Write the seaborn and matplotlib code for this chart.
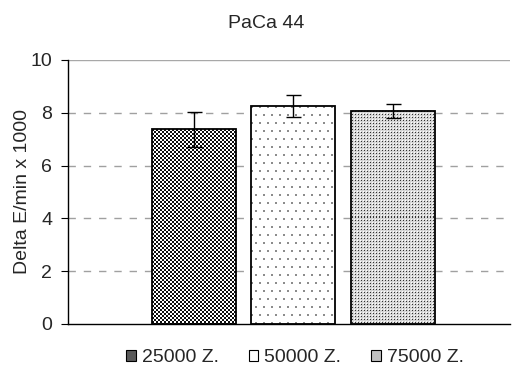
import matplotlib
matplotlib.use("Agg")
import matplotlib.pyplot as plt
import seaborn as sns
import pandas as pd
import numpy as np
from matplotlib.patches import Patch

# Cell-count groups and measured activity (mean ± SD)
groups = ["25000 Z.", "50000 Z.", "75000 Z."]
values = [7.37, 8.25, 8.07]
errors = [0.67, 0.42, 0.25]
yticks = [0, 2, 4, 6, 8, 10]
title = "PaCa 44"
ylabel = "Delta E/min x 1000"

sns.set_theme(style="white")
plt.rcParams["font.family"] = ["Liberation Sans", "DejaVu Sans"]

df = pd.DataFrame({"group": groups, "value": values})

W, H = 514, 373
fig = plt.figure(figsize=(W / 100, H / 100), dpi=100)
ax = fig.add_axes([68.3 / W, 1 - 324 / H, (510 - 68.3) / W, 264 / H])

sns.barplot(data=df, x="group", y="value", hue="group", order=groups,
            hue_order=groups, dodge=False, width=0.844, legend=False, ax=ax,
            errorbar=None, zorder=3)

XLIM = (-1.26, 3.18)
ax.set_ylim(0, 10)
ax.set_xlim(*XLIM)


def texture(kind, h, w):
    """Pixel fill pattern for a bar of h x w pixels."""
    yy, xx = np.mgrid[0:h, 0:w]
    img = np.ones((h, w, 3))
    if kind == "checker":
        mask = ((xx // 2) + (yy // 2)) % 2 == 0
        img[mask] = 0.05
    elif kind == "sparse":
        row = yy // 8
        shift = (row % 2) * 4
        mask = ((yy % 8) < 2) & (((xx + shift) % 8) < 2)
        img[mask] = 0.55
    elif kind == "dense":
        img[:] = 0.84
        img[(xx % 3 == 1) & (yy % 3 == 1)] = 0.2
        img[(xx % 3 == 0) & (yy % 3 == 0)] = 1.0
    return img


kinds = ["checker", "sparse", "dense"]
for patch, kind in zip(ax.patches, kinds):
    x0 = patch.get_x()
    x1 = x0 + patch.get_width()
    y1 = patch.get_height()
    (px0, py0), (px1, py1) = ax.transData.transform([(x0, 0), (x1, y1)])
    h = max(int(round(py1 - py0)), 2)
    w = max(int(round(px1 - px0)), 2)
    ax.imshow(texture(kind, h, w), extent=(x0, x1, 0, y1), origin="upper",
              interpolation="nearest", aspect="auto", zorder=2.5)
    patch.set_facecolor("none")
    patch.set_edgecolor("black")
    patch.set_linewidth(1.3)

ax.errorbar(range(len(groups)), values, yerr=errors, fmt="none",
            ecolor="black", elinewidth=1.0, capsize=5.4, capthick=1.0, zorder=4)

for t in yticks[1:-1]:
    ax.axhline(t, color="#a0a0a0", lw=1.0, ls=(0, (5.3, 5.7)), zorder=1)
ax.axhline(yticks[-1], color="#a8a8a8", lw=1.0, zorder=1)

ax.set_ylim(0, 10)
ax.set_xlim(*XLIM)
ax.set_yticks(yticks)
ax.set_yticklabels([str(t) for t in yticks], fontsize=14)
ax.set_xticks([])
ax.set_xlabel("")
ax.set_ylabel(ylabel, fontsize=14, labelpad=0)
ax.tick_params(axis="y", direction="out", length=5, width=0.8, color="black",
               left=True, pad=6.5)
for side in ["top", "right"]:
    ax.spines[side].set_visible(False)
for side in ["left", "bottom"]:
    ax.spines[side].set_color("black")
    ax.spines[side].set_linewidth(1.0)

fig.text(266 / W, 1 - 28 / H, title, ha="center", va="baseline", fontsize=14)

legend_faces = ["#5a5a5a", "white", "#c0c0c0"]
handles = [Patch(facecolor=fc, edgecolor="black", linewidth=0.8)
           for fc in legend_faces]
fig.legend(handles, groups, loc="center", bbox_to_anchor=(295 / W, 1 - 358 / H),
           ncol=3, frameon=False, fontsize=14, handlelength=0.5,
           handleheight=0.5, handletextpad=0.3, columnspacing=1.55)

fig.savefig("out.png", dpi=100)
